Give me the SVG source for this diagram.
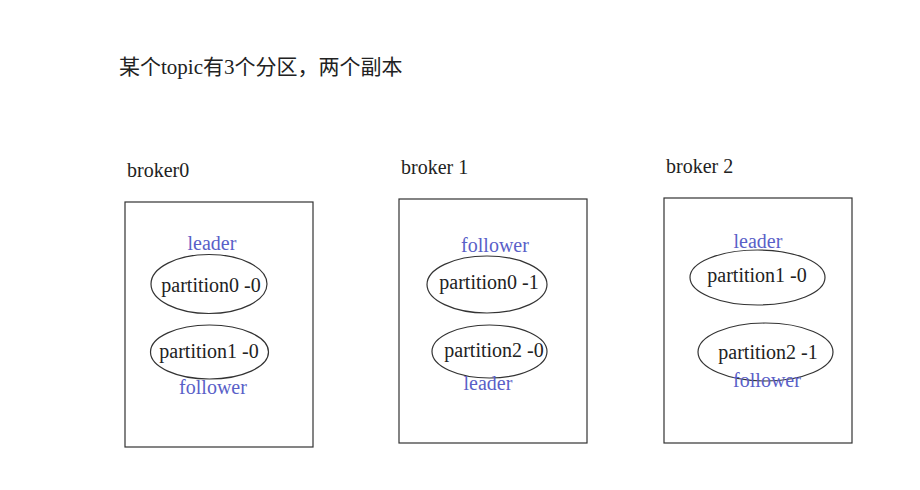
<svg xmlns="http://www.w3.org/2000/svg" width="920" height="490" viewBox="0 0 920 490">
<style>
text{font-family:"Liberation Serif","Noto Sans CJK SC",serif;}
.title{font-size:21px;fill:#222;}
.bl{font-size:20px;fill:#222;}
.box{fill:#fff;stroke:#333;stroke-width:1.2;}
.ell{fill:none;stroke:#333;stroke-width:1.2;}
.pt{font-size:20px;fill:#222;text-anchor:middle;}
.role{font-size:20px;fill:#5a5fc8;text-anchor:middle;}
</style>
<rect width="920" height="490" fill="#fff"/>
<text class="title" x="119" y="74">某个topic有3个分区，两个副本</text>
<g id="connectors"></g>
<g id="broker0">
<text class="bl" x="127" y="177">broker0</text>
<rect class="box" x="125" y="202" width="188" height="245"/>
<text class="role" x="212" y="250">leader</text>
<ellipse class="ell" cx="209" cy="284" rx="58" ry="29.5"/>
<text class="pt" x="211" y="292">partition0 -0</text>
<ellipse class="ell" cx="209.5" cy="352" rx="59" ry="27"/>
<text class="pt" x="209" y="358">partition1 -0</text>
<text class="role" x="213" y="394">follower</text>
</g>
<g id="broker1">
<text class="bl" x="401" y="174">broker 1</text>
<rect class="box" x="399" y="199" width="188" height="244"/>
<text class="role" x="495" y="252">follower</text>
<ellipse class="ell" cx="487" cy="284.5" rx="60" ry="28.5"/>
<text class="pt" x="489" y="289">partition0 -1</text>
<ellipse class="ell" cx="489.5" cy="351.5" rx="57.5" ry="26.5"/>
<text class="pt" x="494" y="357">partition2 -0</text>
<text class="role" x="488" y="390">leader</text>
</g>
<g id="broker2">
<text class="bl" x="666" y="173">broker 2</text>
<rect class="box" x="664" y="198" width="188" height="245"/>
<text class="role" x="758" y="248">leader</text>
<ellipse class="ell" cx="757.5" cy="277.5" rx="67.5" ry="27.5"/>
<text class="pt" x="757" y="282">partition1 -0</text>
<ellipse class="ell" cx="765.5" cy="352" rx="67.5" ry="29"/>
<text class="pt" x="768" y="359">partition2 -1</text>
<text class="role" x="767" y="387">follower</text>
</g>
</svg>
